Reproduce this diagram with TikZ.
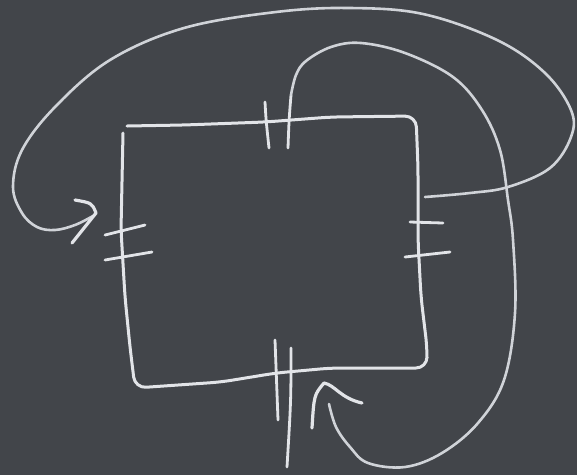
\documentclass[tikz,border=0pt]{standalone}
\definecolor{board}{RGB}{66,69,74}
\definecolor{chalk}{RGB}{226,228,232}
\definecolor{chalkdim}{RGB}{208,211,216}
\begin{document}
\begin{tikzpicture}[x=1pt,y=-1pt,
  wire/.style={draw=chalk,line width=3pt,line cap=round,line join=round},
  loopline/.style={draw=chalkdim,line width=2.6pt,line cap=round,line join=round},
  plate/.style={draw=chalk,line width=2.8pt,line cap=round},
  head/.style={draw=chalk,line width=3.2pt,line cap=round,line join=round}]
\fill[board] (0,0) rectangle (577,475);
\useasboundingbox (0,0) rectangle (577,475);

% key points
\coordinate (tl) at (127,126);
\coordinate (tlend) at (123,133);
\coordinate (tipL) at (96,213);
\coordinate (tipB) at (324,383);
\coordinate (startO) at (425,197);
\coordinate (startI) at (291,95);

% circuit loop
\draw[wire, rounded corners=11pt] (tl) -- (184,125) -- (265,122) -- (331,117) -- (416,116)
  -- (418,167) -- (418,240) -- (421,297) -- (427,347) -- (427,368)
  -- (331,368) -- (276,373) -- (221,382) -- (135,388) -- (130,347) -- (125,297) -- (121,230) -- (tlend);

% top capacitor
\draw[plate] (265,102) .. controls (266,120) .. (269,148);
\draw[plate] (288,148) .. controls (289,120) .. (startI);
% bottom capacitor
\draw[plate] (275,340) .. controls (276,380) .. (278,420);
\draw[plate] (291,348) .. controls (291,400) .. (287,467);
% left capacitor
\draw[plate] (105,235) -- (145,225);
\draw[plate] (105,260) -- (152,252);
% right capacitor
\draw[plate] (410,222) -- (443,223);
\draw[plate] (405,257) -- (450,252);

% outer loop with arrow to the left capacitor
\draw[loopline] plot[smooth, tension=0.6] coordinates {(startO) (470,193) (508,187) (550,168) (571,137) (571,110) (545,73) (497,40) (423,14) (350,8) (276,12) (184,28) (110,60) (55,107) (22,150) (13,187) (22,213) (37,227) (55,230) (75,225) (93,216)};
\draw[head] (75,200) .. controls (92,203) .. (tipL) -- (72,243);

% inner loop with arrow to the bottom capacitor
\draw[loopline] plot[smooth, tension=0.6] coordinates {(startI) (296,75) (306,61) (331,47) (361,43) (405,53) (453,77) (482,110) (500,150) (508,200) (513,240) (515,313) (504,380) (478,423) (442,453) (405,467) (368,463) (350,447) (336,427) (329,404)};
\draw[head] (312,428) .. controls (314,395) .. (tipB) .. controls (335,385) and (340,398) .. (362,403);
\end{tikzpicture}
\end{document}
